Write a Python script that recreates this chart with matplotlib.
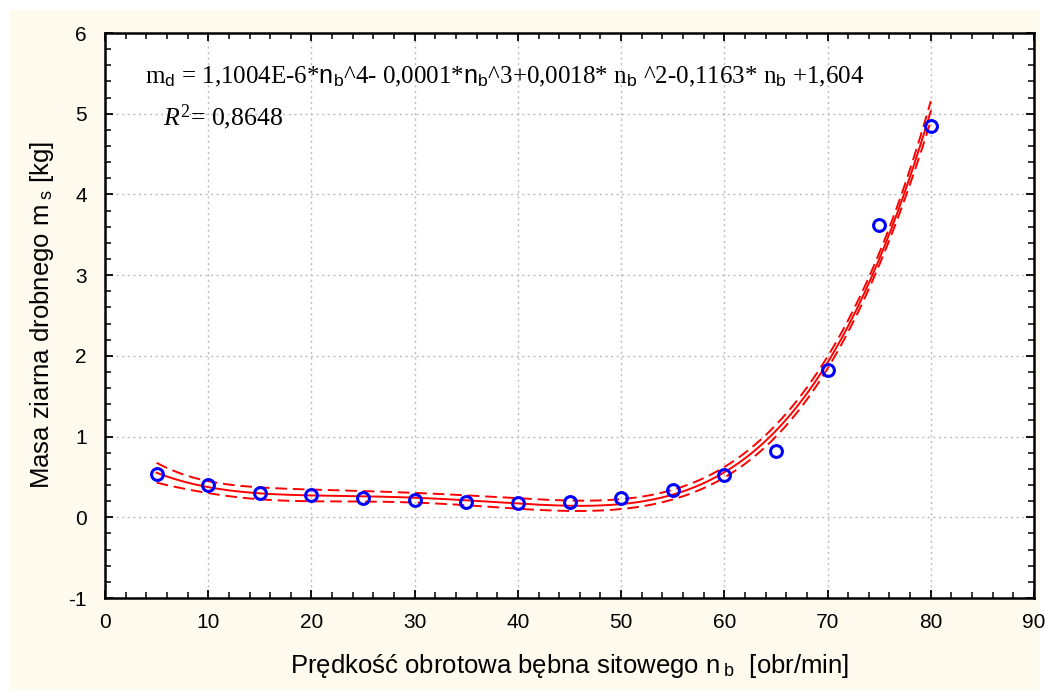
import numpy as np
import matplotlib
matplotlib.use("Agg")
import matplotlib.pyplot as plt
from matplotlib.patches import Rectangle
from matplotlib.ticker import MultipleLocator
from matplotlib import font_manager

# ---- data ----
speed = [5, 10, 15, 20, 25, 30, 35, 40, 45, 50, 55, 60, 65, 70, 75, 80]
mass = [0.54, 0.40, 0.30, 0.27, 0.24, 0.21, 0.19, 0.18, 0.19, 0.24, 0.34, 0.52, 0.82, 1.83, 3.62, 4.85]
replicates = 7
x_ticks = [0, 10, 20, 30, 40, 50, 60, 70, 80, 90]
y_ticks = [-1, 0, 1, 2, 3, 4, 5, 6]
equation = (r"$\text{m}_{\mathsf{d}}\text{ = 1,1004E-6*}\mathsf{n}_{\mathsf{b}}\text{^4- 0,0001*}"
            r"\mathsf{n}_{\mathsf{b}}\text{^3+0,0018* n}_{\mathsf{b}}\text{ ^2-0,1163* n}_{\mathsf{b}}"
            r"\text{ +1,604}$")
r2_text = r"$R^{2}\text{= 0,8648}$"
xlabel = r"Prędkość obrotowa bębna sitowego n$_{\ \mathsf{b}}$  [obr/min]"
ylabel = r"Masa ziarna drobnego m$_{\ \mathsf{s}}$ [kg]"

names = {f.name for f in font_manager.fontManager.ttflist}
narrow = "Liberation Sans Narrow" if "Liberation Sans Narrow" in names else "Liberation Sans"

plt.rcParams["axes.unicode_minus"] = False
plt.rcParams["mathtext.fontset"] = "custom"
plt.rcParams["mathtext.rm"] = "Liberation Serif"
plt.rcParams["mathtext.it"] = "Liberation Serif:italic"
plt.rcParams["mathtext.sf"] = "Liberation Sans"

fig = plt.figure(figsize=(10.47, 6.95), dpi=100, facecolor="white")
fig.patches.append(Rectangle((10 / 1047, 5 / 695), 1030 / 1047, 680 / 695,
                             transform=fig.transFigure, facecolor="#FEFAEE",
                             edgecolor="none", zorder=-10))
ax = fig.add_axes([105 / 1047, 1 - 598 / 695, (1034 - 105) / 1047, (598 - 33) / 695])
ax.set_facecolor("white")

# fit (4th degree polynomial) with confidence band
xs = np.array(speed, float)
ys = np.array(mass, float)
coef, cov = np.polyfit(xs, ys, 4, cov=True)
xf = np.linspace(5, 80, 300)
V = np.vander(xf, 5)
yf = V @ coef
se = np.sqrt(np.einsum("ij,jk,ik->i", V, cov, V)) / np.sqrt(replicates)
t = 2.2
ax.plot(xf, yf, color="red", lw=1.4, zorder=3)
ax.plot(xf, yf + t * se, color="red", lw=1.4, ls=(0, (6, 3)), zorder=3)
ax.plot(xf, yf - t * se, color="red", lw=1.4, ls=(0, (6, 3)), zorder=3)

ax.plot(speed, mass, ls="none", marker="o", ms=8.5, mfc="none", mec="blue", mew=2.2, zorder=4)

ax.set_xlim(0, 90)
ax.set_ylim(-1, 6)
ax.set_xticks(x_ticks)
ax.set_yticks(y_ticks)
ax.xaxis.set_minor_locator(MultipleLocator(2))
ax.yaxis.set_minor_locator(MultipleLocator(0.2))
ax.tick_params(which="both", direction="in", top=True, right=True, color="black")
ax.tick_params(which="major", length=6, width=1.3, labelsize=15, pad=11)
ax.tick_params(which="minor", length=4, width=1.1)
ax.tick_params(axis="y", which="major", pad=13)
for lab in ax.get_xticklabels() + ax.get_yticklabels():
    lab.set_fontfamily(narrow)
for s in ax.spines.values():
    s.set_linewidth(1.8)
ax.grid(True, which="major", color="#BBBBBB", ls=(0, (1.5, 2.5)), lw=1.0)
ax.set_axisbelow(True)

ax.set_xlabel(xlabel, fontsize=18.5, family="Liberation Sans", labelpad=14)
ax.set_ylabel(ylabel, fontsize=18.5, family="Liberation Sans", labelpad=9)

ax.text(3.9, 5.38, equation, fontsize=18, color="black")
ax.text(5.6, 4.85, r2_text, fontsize=18.5, color="black")

fig.savefig("out.png", dpi=100, facecolor="white")
